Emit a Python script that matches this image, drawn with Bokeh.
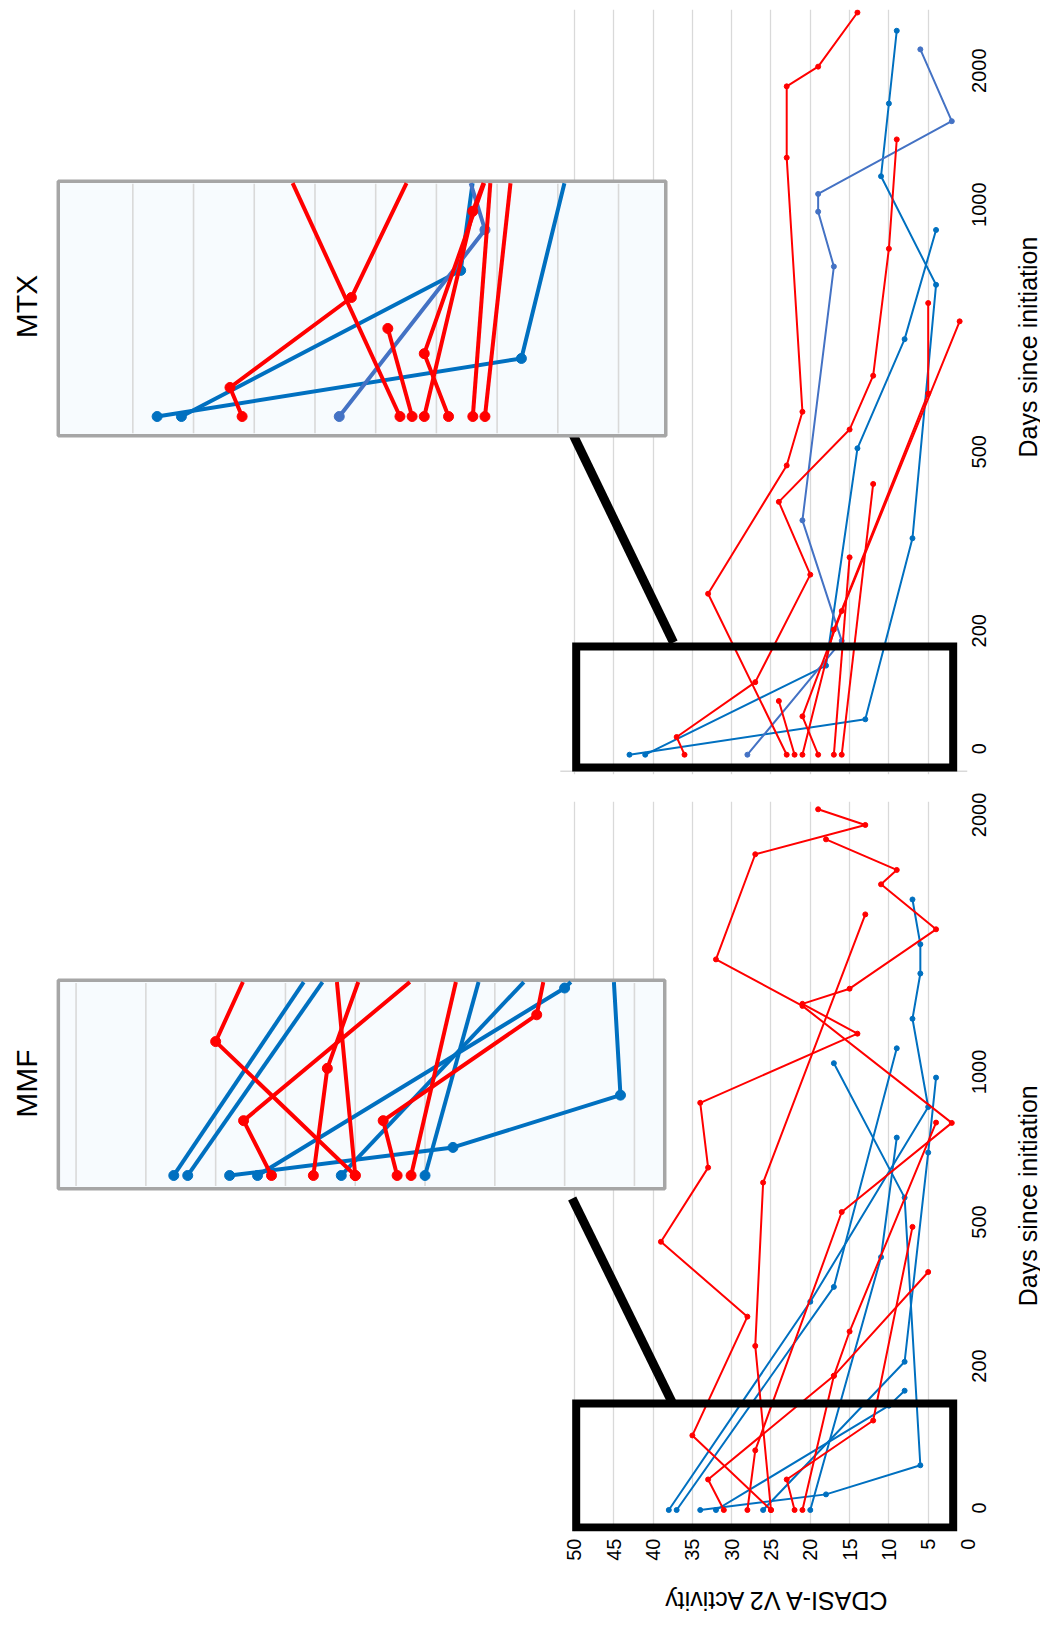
import math
import numpy as np
from bokeh.plotting import figure
from bokeh.layouts import column, row
from bokeh.models import Range1d, LinearAxis, FixedTicker, Grid
from bokeh.core.properties import value
from bokeh.embed import file_html
from bokeh.resources import INLINE

FONT = "Liberation Sans"
BLUE = "#0070C0"
RED = "#FF0000"
PURPLE = "#4472C4"
GRID_COLOR = "#d9d9d9"

# ---------------- axes ----------------
day_ticks = [0, 200, 500, 1000, 2000]
day_tick_labels = ["0", "200", "500", "1000", "2000"]
mtx_day_tick_pos = [0, 118, 297, 544, 678]   # position of the day ticks on the MTX time axis
mmf_day_tick_pos = [0, 142, 286, 436, 693]   # position of the day ticks on the MMF time axis
cdasi_ticks = [0, 5, 10, 15, 20, 25, 30, 35, 40, 45, 50]
cdasi_grid = [5, 10, 15, 20, 25, 30, 35, 40, 45, 50]
inset_grid = [5, 10, 15, 20, 25, 30, 35, 40, 45]

# ---------------- MTX patients (days since initiation, CDASI-A V2 activity) ----------------
mtx_b1_days = [0, 60, 365, 850, 1257, 1800, 2343]
mtx_b1_score = [43, 13, 7, 4, 11, 10, 9]
mtx_b2_days = [0, 151, 519, 740, 961]
mtx_b2_score = [41, 18, 14, 8, 4]
mtx_p1_days = [0, 193, 395, 887, 998, 1125, 1668, 2204]
mtx_p1_score = [28, 16, 21, 17, 19, 19, 2, 6]
mtx_r1_days = [0, 30, 123, 304, 426, 557, 666, 923, 1532]
mtx_r1_score = [36, 37, 27, 20, 24, 15, 12, 10, 9]
mtx_r2_days = [0, 272, 487, 593, 1396, 1928, 2075, 2479]
mtx_r2_score = [23, 33, 23, 21, 23, 23, 19, 14]
mtx_r3_days = [0, 91]
mtx_r3_score = [22, 24]
mtx_r4_days = [0, 333]
mtx_r4_score = [17, 15]
mtx_r5_days = [0, 456]
mtx_r5_score = [16, 12]
mtx_r6_days = [0, 65, 243, 776]
mtx_r6_score = [19, 21, 16, 1]
mtx_r7_days = [0, 212, 630, 813]
mtx_r7_score = [21, 17, 5, 5]

# ---------------- MMF patients ----------------
mmf_r1_days = [0, 105, 307, 463, 688, 904, 1157, 1273, 1332, 1563, 1738, 1794, 1913]
mmf_r1_score = [25, 35, 28, 39, 33, 34, 14, 21, 15, 4, 11, 9, 18]
mmf_r2_days = [0, 84, 540, 837, 1265, 1446, 1855, 1969, 2030]
mmf_r2_score = [28, 27, 16, 2, 21, 32, 27, 13, 19]
mmf_r3_days = [0, 246, 638, 1621]
mmf_r3_score = [25, 27, 26, 13]
mmf_r4_days = [0, 43, 189, 400]
mmf_r4_score = [31, 33, 17, 5]
mmf_r5_days = [0, 189, 276, 838]
mmf_r5_score = [21, 17, 15, 4]
mmf_r6_days = [0, 43, 126, 494]
mmf_r6_score = [22, 23, 12, 7]
mmf_b1_days = [0, 338, 890, 1215, 1391, 1505, 1679]
mmf_b1_score = [38, 20, 5, 7, 6, 6, 7]
mmf_b2_days = [0, 369, 1100]
mmf_b2_score = [37, 17, 9]
mmf_b3_days = [0, 22, 63, 588, 1042]
mmf_b3_score = [34, 18, 6, 8, 17]
mmf_b4_days = [0, 147, 168]
mmf_b4_score = [32, 10, 8]
mmf_b5_days = [0, 213, 738, 988]
mmf_b5_score = [26, 8, 5, 4]
mmf_b6_days = [0, 431, 788]
mmf_b6_score = [20, 11, 9]

mtx_series = [
    (mtx_b1_days, mtx_b1_score, BLUE), (mtx_b2_days, mtx_b2_score, BLUE),
    (mtx_p1_days, mtx_p1_score, PURPLE),
    (mtx_r1_days, mtx_r1_score, RED), (mtx_r2_days, mtx_r2_score, RED),
    (mtx_r3_days, mtx_r3_score, RED), (mtx_r4_days, mtx_r4_score, RED),
    (mtx_r5_days, mtx_r5_score, RED), (mtx_r6_days, mtx_r6_score, RED),
    (mtx_r7_days, mtx_r7_score, RED),
]
mmf_series = [
    (mmf_b1_days, mmf_b1_score, BLUE), (mmf_b2_days, mmf_b2_score, BLUE),
    (mmf_b3_days, mmf_b3_score, BLUE), (mmf_b4_days, mmf_b4_score, BLUE),
    (mmf_b5_days, mmf_b5_score, BLUE), (mmf_b6_days, mmf_b6_score, BLUE),
    (mmf_r1_days, mmf_r1_score, RED), (mmf_r2_days, mmf_r2_score, RED),
    (mmf_r3_days, mmf_r3_score, RED), (mmf_r4_days, mmf_r4_score, RED),
    (mmf_r5_days, mmf_r5_score, RED), (mmf_r6_days, mmf_r6_score, RED),
]

TICK_FONT_PX = 20
DIGIT_W = 0.556 * TICK_FONT_PX
MAIN_W = 1010
STRIP_W = 30
TITLE_FONT = "25px"


def day_to_pos(days, tick_pos):
    d = np.asarray(days, dtype=float)
    pos = np.interp(d, day_ticks, tick_pos)
    slope = (tick_pos[-1] - tick_pos[-2]) / (day_ticks[-1] - day_ticks[-2])
    over = d > day_ticks[-1]
    pos[over] = tick_pos[-1] + (d[over] - day_ticks[-1]) * slope
    return pos


def clip_top(xs, ts, top):
    ox, ot = [], []
    for i in range(len(ts)):
        if ts[i] <= top:
            ox.append(float(xs[i]))
            ot.append(float(ts[i]))
        else:
            if i > 0:
                f = (top - ts[i - 1]) / (ts[i] - ts[i - 1])
                ox.append(float(xs[i - 1] + f * (xs[i] - xs[i - 1])))
                ot.append(float(top))
            break
    return ox, ot


def text_strip(width, height, x_range, b_left, b_right, x, y, text, angle):
    s = figure(width=width, height=height, x_range=x_range, y_range=Range1d(0, height),
               output_backend="svg", toolbar_location=None,
               x_axis_location=None, y_axis_location=None,
               min_border_left=b_left, min_border_right=b_right, min_border_top=0, min_border_bottom=0,
               outline_line_color=None, background_fill_color="#ffffff", border_fill_color="#ffffff")
    s.xgrid.visible = False
    s.ygrid.visible = False
    s.text(x=[x], y=[y], text=[text], angle=angle, text_font=value(FONT),
           text_font_size=value(TITLE_FONT), text_color="#000000",
           text_align="center", text_baseline="middle")
    return s


def make_panel(series, tick_pos, label_shift, height, b_top, b_bottom, y_lo, y_hi, inset, box,
               connector, title, title_pos, bottom_axis, baseline=None):
    p = figure(width=MAIN_W, height=height,
               x_range=Range1d(122.0, 0.0), y_range=Range1d(y_lo, y_hi),
               output_backend="svg", toolbar_location=None,
               x_axis_location=None, y_axis_location=None,
               min_border_left=8, min_border_right=MAIN_W - 967,
               min_border_top=b_top, min_border_bottom=b_bottom,
               outline_line_color=None,
               background_fill_color="#ffffff", border_fill_color="#ffffff")
    p.xgrid.visible = False
    p.ygrid.visible = False
    p.add_layout(Grid(dimension=0, ticker=FixedTicker(ticks=cdasi_grid),
                      grid_line_color=GRID_COLOR, grid_line_width=1.3))

    # days tick labels on the right; rotated labels start at their anchor, so the
    # anchor is moved back by half the label length to centre each label on its tick
    anchors = [round(t + label_shift - len(lab) * DIGIT_W / 2, 1)
               for t, lab in zip(tick_pos, day_tick_labels)]
    tick_axis = LinearAxis(
        ticker=FixedTicker(ticks=anchors),
        major_label_overrides={a: lab for a, lab in zip(anchors, day_tick_labels)},
        major_label_orientation=math.pi / 2,
        axis_line_color=None, major_tick_line_color=None, minor_tick_line_color=None,
        major_label_text_font=FONT, major_label_text_font_size=f"{TICK_FONT_PX}px",
        major_label_text_color="#000000", major_label_standoff=6)
    p.add_layout(tick_axis, "right")

    if bottom_axis:
        xax = LinearAxis(
            ticker=FixedTicker(ticks=cdasi_ticks),
            major_label_orientation=math.pi / 2,
            axis_line_color=None, major_tick_line_color=None, minor_tick_line_color=None,
            major_label_text_font=FONT, major_label_text_font_size=f"{TICK_FONT_PX}px",
            major_label_text_color="#000000", major_label_standoff=1)
        p.add_layout(xax, "below")

    if baseline is not None:
        p.segment(x0=[baseline[0]], x1=[baseline[1]], y0=[baseline[2]], y1=[baseline[2]],
                  line_color=GRID_COLOR, line_width=1.5)

    # main data
    for days, score, color in series:
        t = day_to_pos(days, tick_pos)
        p.line(x=score, y=list(t), line_color=color, line_width=2)
        p.scatter(x=score, y=list(t), size=5, fill_color=color, line_color=color)

    # zoom box and connector
    bl, br, bb, bt = box
    p.quad(left=[bl], right=[br], bottom=[bb], top=[bt], fill_alpha=0,
           line_color="#000000", line_width=8, line_join="miter")
    p.line(x=connector[0], y=connector[1], line_color="#000000", line_width=9)

    # inset (magnified early period)
    ix, iy, ibox, clip = inset
    p.extra_x_ranges["ix"] = Range1d(*ix)
    p.extra_y_ranges["iy"] = Range1d(*iy)
    il, ir, ib, itop = ibox
    p.quad(left=[il], right=[ir], bottom=[ib], top=[itop], x_range_name="ix", y_range_name="iy",
           fill_color="#f7fbfe", line_color="#a6a6a6", line_width=3.5)
    n = len(inset_grid)
    p.segment(x0=inset_grid, x1=inset_grid, y0=[ib + 1.5] * n, y1=[itop - 1.5] * n,
              x_range_name="ix", y_range_name="iy", line_color=GRID_COLOR, line_width=1.6)
    for days, score, color in series:
        t = day_to_pos(days, tick_pos)
        cx, ct = clip_top(score, t, clip)
        p.line(x=cx, y=ct, x_range_name="ix", y_range_name="iy", line_color=color, line_width=4)
        mx = [s for s, tt in zip(score, t) if tt <= clip]
        mt = [float(tt) for tt in t if tt <= clip]
        p.scatter(x=mx, y=mt, x_range_name="ix", y_range_name="iy", size=10,
                  fill_color=color, line_color=color)

    p.text(x=[title_pos[0]], y=[title_pos[1]], text=[title], angle=math.pi / 2,
           text_font=value(FONT), text_font_size=value("30px"), text_color="#000000",
           text_align="center", text_baseline="middle")
    return p


MTX_H = 784
MMF_H = 787
BOTTOM_H = 1628 - MTX_H - MMF_H

mtx = make_panel(
    mtx_series, mtx_day_tick_pos, 6.0, height=MTX_H, b_top=9, b_bottom=10,
    y_lo=-19.8, y_hi=745.2,
    inset=((55.24, -23.74), (-218.3, 248.2), (51.14, 1.11, -11.74, 143.4), 142.3),
    box=(49.78, 1.82, -12.8, 108.2),
    connector=([37.4, 50.25], [112.2, 321.2]),
    title="MTX", title_pos=(119.7, 448.2),
    bottom_axis=False, baseline=(51.8, 0.0, -16.6))

mmf = make_panel(
    mmf_series, mmf_day_tick_pos, 2.0, height=MMF_H, b_top=17, b_bottom=40,
    y_lo=-21.5, y_hi=708.5,
    inset=((49.84, -18.86), (-198.2, 208.2), (46.27, 2.83, -7.38, 108.7), 107.7),
    box=(49.78, 1.82, -17.5, 106.5),
    connector=([37.57, 50.29], [107.6, 311.6]),
    title="MMF", title_pos=(119.7, 426.5),
    bottom_axis=True)

# axis titles
mtx_days_title = text_strip(STRIP_W, MTX_H, Range1d(0, STRIP_W), 0, 0,
                            17, MTX_H - 346, "Days since initiation", math.pi / 2)
mmf_days_title = text_strip(STRIP_W, MMF_H, Range1d(0, STRIP_W), 0, 0,
                            17, MMF_H - (1209 - MTX_H), "Days since initiation", math.pi / 2)
cdasi_title = text_strip(MAIN_W, BOTTOM_H, mmf.x_range, 8, MAIN_W - 967,
                         24.5, BOTTOM_H - (1600 - MTX_H - MMF_H), "CDASI-A V2 Activity", math.pi)

layout = column(row(mtx, mtx_days_title, spacing=0),
                row(mmf, mmf_days_title, spacing=0),
                cdasi_title, spacing=0)
open("out.html", "w").write(file_html(layout, INLINE))
